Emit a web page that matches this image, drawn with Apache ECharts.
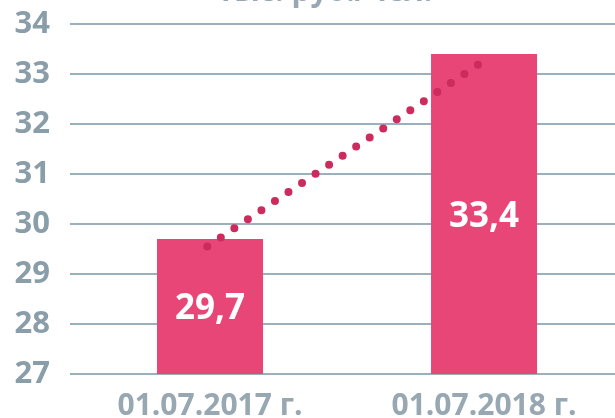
<!DOCTYPE html>
<html>
<head>
<meta charset="utf-8">
<script src="https://cdn.jsdelivr.net/npm/echarts@6/dist/echarts.min.js"></script>
<style>html,body{margin:0;padding:0;background:#fff;}#c{width:615px;height:418px;}</style>
</head>
<body>
<div id="c"></div>
<script>
const categories = ['01.07.2017 г.', '01.07.2018 г.'];
const barValues = [29.7, 33.4];
const barLabels = ['29,7', '33,4'];
const trendX = [-0.01, 1.015];
const trendValues = [29.55, 33.32];
const titleText = 'тыс. руб./чел.';

const chart = echarts.init(document.getElementById('c'), null, {renderer: 'canvas'});
chart.setOption({
  animation: false,
  title: {
    text: titleText, left: 320, top: -28, textAlign: 'center',
    textStyle: {fontFamily: 'Open Sans', fontWeight: 'bold', fontSize: 30, color: '#97a8b3'}
  },
  grid: {left: 70, right: 0, top: 24, bottom: 44, containLabel: false, outerBoundsMode: 'none'},
  xAxis: {
    type: 'value', min: -0.511, max: 1.478,
    splitLine: {show: false},
    axisLine: {show: false},
    axisTick: {show: false},
    axisLabel: {
      customValues: [0, 1],
      formatter: v => categories[Math.round(v)],
      fontFamily: 'Open Sans', fontWeight: 'bold', fontSize: 30, color: '#97a8b3', margin: 17
    }
  },
  yAxis: {
    type: 'value', min: 27, max: 34, interval: 1,
    axisLine: {show: false}, axisTick: {show: false},
    axisLabel: {fontFamily: 'Open Sans', fontWeight: 'bold', fontSize: 31, color: '#8a9eaa', margin: 20},
    splitLine: {lineStyle: {color: '#9ab0bb', width: 2}}
  },
  series: [{
    type: 'bar', data: barValues.map((v, i) => [i, v]), barWidth: 106,
    itemStyle: {color: '#e84677'},
    label: {
      show: true, position: 'inside', offset: [0, 3],
      formatter: p => barLabels[p.dataIndex],
      fontFamily: 'Open Sans', fontWeight: 'bold', fontSize: 35, color: '#ffffff'
    }
  }, {
    type: 'line', data: trendValues.map((v, i) => [trendX[i], v]), symbol: 'none', z: 5,
    lineStyle: {type: [0, 16.3], cap: 'round', width: 8, color: '#cc2b5e'}
  }]
});
</script>
</body>
</html>
